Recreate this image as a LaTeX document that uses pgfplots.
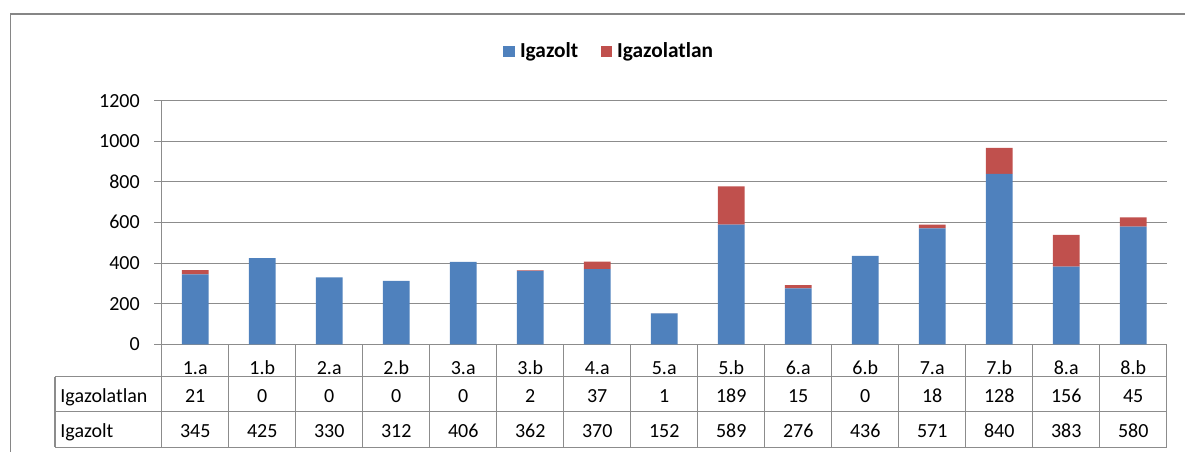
\documentclass[border=0pt]{standalone}
\usepackage{pgfplots}
\pgfplotsset{compat=1.18}
\usepackage{pgfplotstable}
\usepackage{fontspec}
\setmainfont{Carlito}
\definecolor{xlblue}{HTML}{4F81BD}
\definecolor{xlred}{HTML}{C0504D}
\definecolor{gridgray}{HTML}{8C8C8C}
\definecolor{framegray}{HTML}{868686}

\pgfplotstableread{
x cat ign igz
0 1.a 21 345
1 1.b 0 425
2 2.a 0 330
3 2.b 0 312
4 3.a 0 406
5 3.b 2 362
6 4.a 37 370
7 5.a 1 152
8 5.b 189 589
9 6.a 15 276
10 6.b 0 436
11 7.a 18 571
12 7.b 128 840
13 8.a 156 383
14 8.b 45 580
}\data

\begin{document}
\fontsize{15}{18}\selectfont
\begin{tikzpicture}
\path[use as bounding box] (0pt,0pt) rectangle (888.75pt,-338.25pt);
\draw[framegray, line width=1pt] (7.7pt,-345pt) -- (7.7pt,-10.5pt) -- (895pt,-10.5pt);

\begin{axis}[
  at={(121.28pt,-258.23pt)}, anchor=south west,
  scale only axis, width=753.75pt, height=182.7pt,
  xmin=-0.5, xmax=14.5, ymin=0, ymax=1200,
  ybar stacked, bar width=0.4,
  axis y line*=left, axis x line*=bottom,
  axis line style={gridgray, line width=0.8pt, -},
  xtick={0,...,14}, xticklabels from table={\data}{cat},
  x tick style={draw=none},
  xticklabel style={anchor=center, yshift=-12.7pt, text height=0.63em, text depth=0pt, inner sep=0pt},
  ytick={0,200,...,1200},
  ymajorgrids, grid style={gridgray, line width=0.8pt},
  tick align=outside, y tick style={gridgray, line width=0.8pt}, major tick length=5.5pt,
  yticklabel style={anchor=east, text height=0.63em, text depth=0pt, inner sep=0pt, xshift=-10.8pt,
    /pgf/number format/1000 sep={}},
  /pgf/number format/assume math mode=true,
  clip=false,
  legend columns=2,
  legend cell align=left,
  legend style={at={(axis description cs:0.3399,1.2032)}, anchor=west, draw=none, fill=none,
    inner sep=0pt, outer sep=0pt, font=\fontsize{16}{19}\selectfont\bfseries, nodes={inner sep=0pt}, column sep=0pt,
    /tikz/every odd column/.append style={column sep=4pt},
    /tikz/every even column/.append style={column sep=16.7pt}},
  legend image code/.code={\fill[#1] (0pt,-4.27pt) rectangle (8.55pt,4.27pt);},
]
\addplot[fill=xlblue, draw=none] table[x=x, y=igz]{\data};
\addplot[fill=xlred, draw=none] table[x=x, y=ign]{\data};
\legend{Igazolt, Igazolatlan}
\end{axis}

\begin{axis}[
  at={(121.28pt,-258.23pt)}, anchor=south west,
  scale only axis, width=753.75pt, height=182.7pt,
  xmin=-0.5, xmax=14.5, ymin=103, ymax=346.6,
  hide axis, clip=false,
  nodes near coords, point meta=explicit symbolic,
  every node near coord/.append style={anchor=center, text height=0.63em, text depth=0pt, inner sep=0pt},
]
\addplot[draw=none, mark=none] table[x=x, y expr=51, meta=ign]{\data};
\addplot[draw=none, mark=none] table[x=x, y expr=16.5, meta=igz]{\data};
\end{axis}

\node[anchor=base west, inner sep=0pt] at (45.1pt,-302.0pt) {Igazolatlan};
\node[anchor=base west, inner sep=0pt] at (45.1pt,-328.0pt) {Igazolt};

\begin{scope}[gridgray, line width=0.8pt]
\draw (41.25pt,-282.53pt) -- (875.03pt,-282.53pt);
\draw (41.25pt,-308.78pt) -- (875.03pt,-308.78pt);
\draw (41.25pt,-335.48pt) -- (875.03pt,-335.48pt);
\draw (41.25pt,-282.53pt) -- (41.25pt,-335.48pt);
\foreach \k in {0,...,15} \draw ({121.28pt+\k*50.25pt},-258.23pt) -- ({121.28pt+\k*50.25pt},-335.48pt);
\end{scope}
\end{tikzpicture}
\end{document}
